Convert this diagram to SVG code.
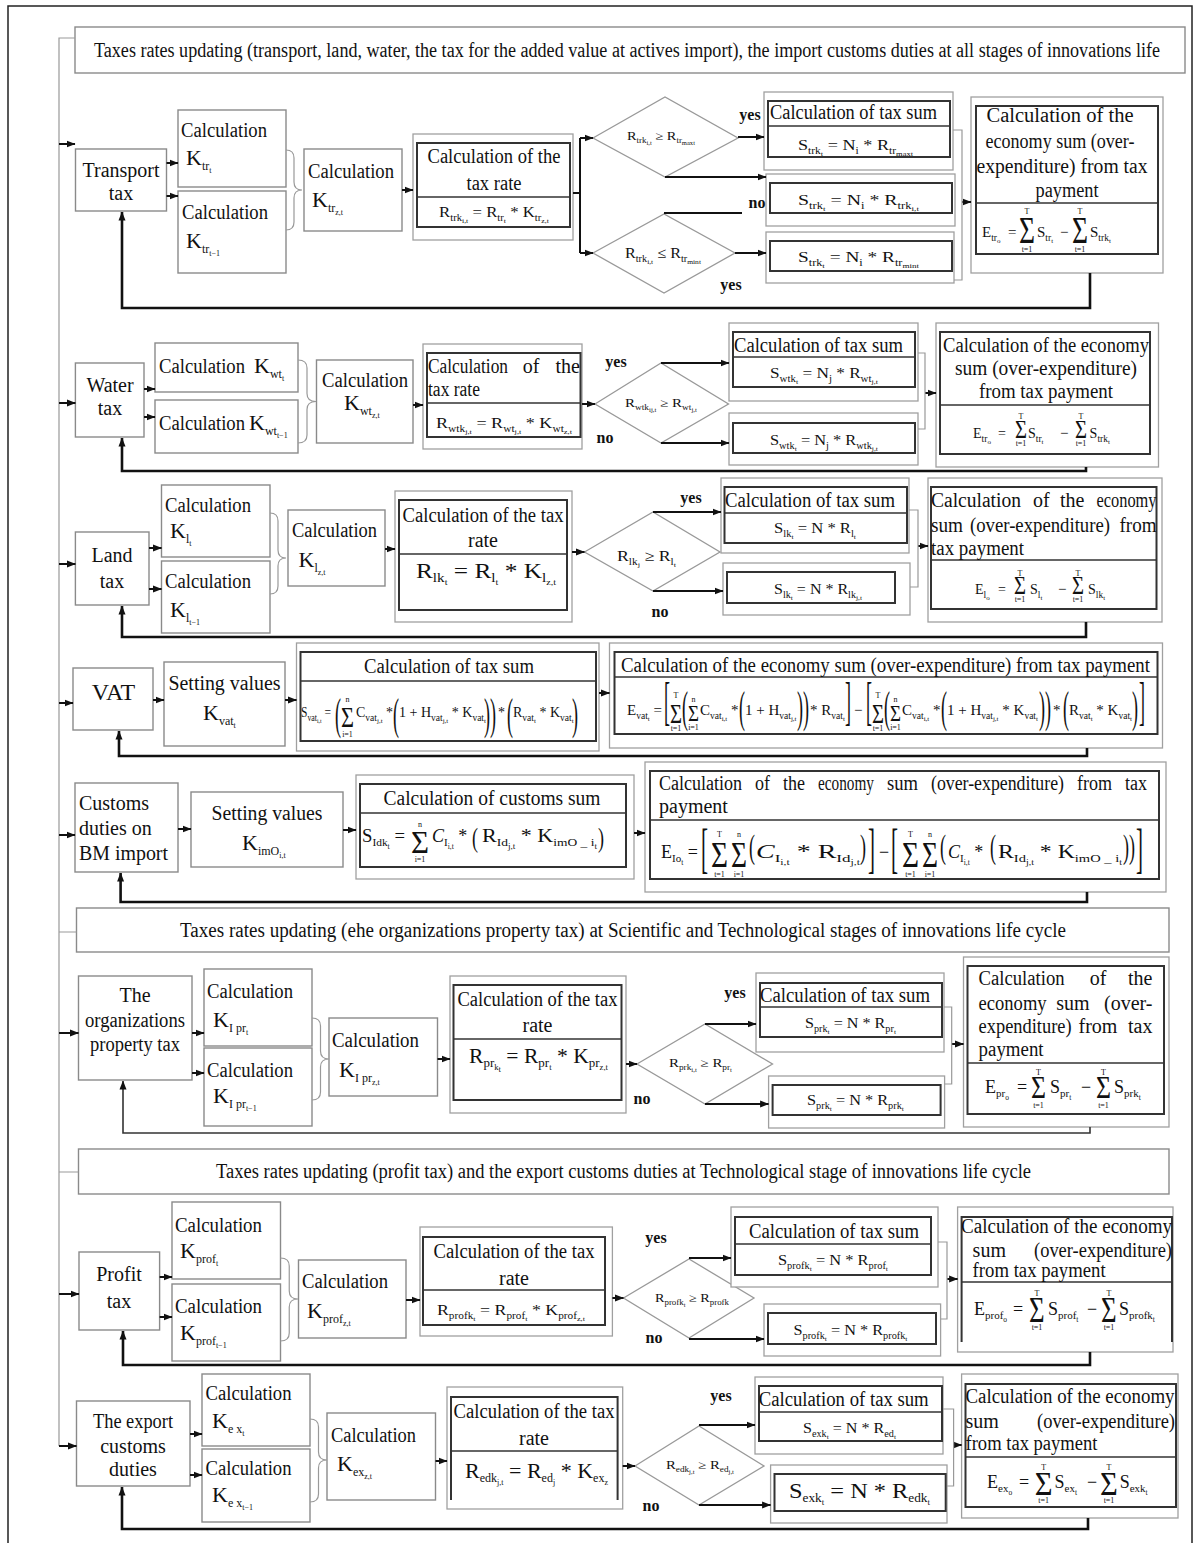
<svg xmlns="http://www.w3.org/2000/svg" width="1200" height="1543" viewBox="0 0 1200 1543">
<defs>
<style>
text{font-family:"Liberation Serif","Times New Roman",serif;fill:#111}
.t{font-size:20px}
.c{text-anchor:middle}
.e{text-anchor:end}
.k{font-size:22px}
.ks{font-size:12px}
.kss{font-size:8px}
.f{font-size:15px}
.s{font-size:9.5px}
.ss{font-size:7px}
.fm{font-size:18px}
.sm{font-size:11px}
.ssm{font-size:7.5px}
.fb{font-size:20px}
.sb{font-size:12px}
.ssb{font-size:8px}
.d{font-size:12px}
.ds{font-size:7.5px}
.dss{font-size:5.5px}
.y{font-size:16px;font-weight:bold;text-anchor:middle}
.lim{font-size:8px;text-anchor:middle}
.bp{font-size:44px}
.bk{font-size:52px}
.nb{fill:#fff;stroke:#8a8a8a;stroke-width:1.4}
.ob{fill:#fff;stroke:#a0a0a0;stroke-width:1.3}
.ib{fill:none;stroke:#333;stroke-width:2}
.dv{fill:none;stroke:#333;stroke-width:1.6}
.dm{fill:#fff;stroke:#999;stroke-width:1.3}
.gl{fill:none;stroke:#999;stroke-width:1.2}
.ln{fill:none;stroke:#111;stroke-width:2}
.fk{fill:none;stroke:#111;stroke-width:2.6}
.fkt{fill:none;stroke:#333;stroke-width:1.6}
</style>
<marker id="ah" markerUnits="userSpaceOnUse" markerWidth="9" markerHeight="8" refX="8.5" refY="4" orient="auto"><path d="M0,0.5 L9,4 L0,7.5 z" fill="#111"/></marker>
</defs>
<rect width="1200" height="1543" fill="#fff"/>
<rect x="8" y="6" width="1184" height="1560" fill="none" stroke="#222" stroke-width="1.5"/>

<!-- Titles -->
<g id="title-import-stage"><rect class="nb" x="75" y="27" width="1110" height="46"/><text class="t c" x="627" y="57" textLength="1066" lengthAdjust="spacingAndGlyphs">Taxes rates updating (transport, land, water, the tax for the added value at actives import), the import customs duties at all stages of innovations life</text></g>
<g id="title-property-stage"><rect class="nb" x="76.5" y="908" width="1092.5" height="44"/><text class="t c" x="623" y="937" textLength="886" lengthAdjust="spacingAndGlyphs">Taxes rates updating (ehe organizations property tax) at Scientific and Technological stages of innovations life cycle</text></g>
<g id="title-profit-stage"><rect class="nb" x="78.5" y="1149" width="1090.5" height="45"/><text class="t c" x="623.5" y="1178" textLength="815" lengthAdjust="spacingAndGlyphs">Taxes rates updating (profit tax) and the export customs duties at Technological stage of innovations life cycle</text></g>

<!-- Row 1: Transport -->
<g id="transport-tax"><rect class="nb" x="75.5" y="149" width="91" height="62"/><text class="t c" x="121" y="177">Transport</text><text class="t c" x="121" y="200">tax</text></g>
<g id="calc-ktr-t"><rect class="nb" x="178" y="110" width="108" height="77"/><text class="t" x="181" y="137" textLength="86" lengthAdjust="spacingAndGlyphs">Calculation</text><text class="k" x="186" y="165">K<tspan class="ks" dy="5">tr</tspan><tspan class="kss" dy="3">t</tspan></text></g>
<g id="calc-ktr-t1"><rect class="nb" x="178" y="191" width="108" height="82"/><text class="t" x="182" y="219" textLength="86" lengthAdjust="spacingAndGlyphs">Calculation</text><text class="k" x="186" y="248">K<tspan class="ks" dy="5">tr</tspan><tspan class="kss" dy="3">t−1</tspan></text></g>
<g id="calc-ktr-zt"><rect class="nb" x="304" y="149" width="98" height="82"/><text class="t" x="308" y="178" textLength="86" lengthAdjust="spacingAndGlyphs">Calculation</text><text class="k" x="312" y="207">K<tspan class="ks" dy="5">tr</tspan><tspan class="kss" dy="3">z,t</tspan></text></g>
<g id="rate-tr"><rect class="ob" x="413" y="134" width="160" height="106"/><rect class="ib" x="417" y="143" width="153" height="84"/><path class="dv" d="M417,197H570"/><text class="t c" x="494" y="163" textLength="133" lengthAdjust="spacingAndGlyphs">Calculation of the</text><text class="t c" x="494" y="190" textLength="55" lengthAdjust="spacingAndGlyphs">tax rate</text><text class="f" x="439" y="217" textLength="110" lengthAdjust="spacingAndGlyphs">R<tspan class="s" dy="3.5">trk</tspan><tspan class="ss" dy="2.5">i,t</tspan><tspan dy="-6"> = R</tspan><tspan class="s" dy="3.5">tr</tspan><tspan class="ss" dy="2.5">t</tspan><tspan dy="-6"> * K</tspan><tspan class="s" dy="3.5">tr</tspan><tspan class="ss" dy="2.5">z,t</tspan></text></g>
<g id="cond-tr-max"><polygon class="dm" points="593,138 665,97 738,138 665,177"/><text class="d" x="627" y="140" textLength="68" lengthAdjust="spacingAndGlyphs">R<tspan class="ds" dy="3">trk</tspan><tspan class="dss" dy="2">i,t</tspan><tspan dy="-5"> ≥ R</tspan><tspan class="ds" dy="3">tr</tspan><tspan class="dss" dy="2">maxt</tspan></text></g>
<g id="cond-tr-min"><polygon class="dm" points="593,253 664,214 735,253 664,293"/><text class="f" x="625" y="258" textLength="76" lengthAdjust="spacingAndGlyphs">R<tspan class="s" dy="3.5">trk</tspan><tspan class="ss" dy="2.5">i,t</tspan><tspan dy="-6"> ≤ R</tspan><tspan class="s" dy="3.5">tr</tspan><tspan class="ss" dy="2.5">mint</tspan></text></g>
<g id="sum-tr-max"><rect class="ob" x="764" y="92" width="189" height="78"/><rect class="ib" x="768" y="101" width="182" height="56"/><path class="dv" d="M768,126H950"/><text class="t c" x="853.5" y="119" textLength="167" lengthAdjust="spacingAndGlyphs">Calculation of tax sum</text><text class="f" x="798" y="150" textLength="115" lengthAdjust="spacingAndGlyphs">S<tspan class="s" dy="3.5">trk</tspan><tspan class="ss" dy="2.5">t</tspan><tspan dy="-6"> = N</tspan><tspan class="s" dy="3.5">i</tspan><tspan dy="-3.5"> * R</tspan><tspan class="s" dy="3.5">tr</tspan><tspan class="ss" dy="2.5">maxt</tspan></text></g>
<g id="sum-tr-cur"><rect class="ob" x="766" y="174" width="189" height="52"/><rect class="ib" x="770" y="183" width="182" height="30"/><text class="f" x="798" y="205" textLength="121" lengthAdjust="spacingAndGlyphs">S<tspan class="s" dy="3.5">trk</tspan><tspan class="ss" dy="2.5">t</tspan><tspan dy="-6"> = N</tspan><tspan class="s" dy="3.5">i</tspan><tspan dy="-3.5"> * R</tspan><tspan class="s" dy="3.5">trk</tspan><tspan class="ss" dy="2.5">i,t</tspan></text></g>
<g id="sum-tr-min"><rect class="ob" x="766" y="232" width="188" height="51"/><rect class="ib" x="770" y="241" width="182" height="30"/><text class="f" x="798" y="262" textLength="121" lengthAdjust="spacingAndGlyphs">S<tspan class="s" dy="3.5">trk</tspan><tspan class="ss" dy="2.5">t</tspan><tspan dy="-6"> = N</tspan><tspan class="s" dy="3.5">i</tspan><tspan dy="-3.5"> * R</tspan><tspan class="s" dy="3.5">tr</tspan><tspan class="ss" dy="2.5">mint</tspan></text></g>
<g id="econ-tr"><rect class="ob" x="971" y="97" width="192" height="176"/><rect class="ib" x="976" y="106" width="182" height="148"/><path class="dv" d="M976,203H1158"/>
<text class="t c" x="1060" y="122" textLength="147" lengthAdjust="spacingAndGlyphs">Calculation of the</text><text class="t c" x="1060" y="148" textLength="149" lengthAdjust="spacingAndGlyphs">economy sum (over-</text><text class="t c" x="1062" y="173" textLength="171" lengthAdjust="spacingAndGlyphs">expenditure) from tax</text><text class="t c" x="1067" y="197" textLength="63" lengthAdjust="spacingAndGlyphs">payment</text>
<text class="f" x="982" y="237">E<tspan class="s" dy="3.5">tr</tspan><tspan class="ss" dy="2.5">o</tspan></text><text class="f" x="1008" y="237">=</text>
<text x="1019" y="243" style="font-size:38px" textLength="16" lengthAdjust="spacingAndGlyphs">Σ</text><text class="lim" x="1027" y="214">T</text><text class="lim" x="1027" y="252">t=1</text>
<text class="f" x="1037" y="237">S<tspan class="s" dy="3.5">tr</tspan><tspan class="ss" dy="2.5">t</tspan></text><text class="f" x="1060" y="237">−</text>
<text x="1072" y="243" style="font-size:38px" textLength="16" lengthAdjust="spacingAndGlyphs">Σ</text><text class="lim" x="1080" y="214">T</text><text class="lim" x="1080" y="252">t=1</text>
<text class="f" x="1090" y="237">S<tspan class="s" dy="3.5">trk</tspan><tspan class="ss" dy="2.5">t</tspan></text></g>

<!-- Row 2: Water -->
<g id="water-tax"><rect class="nb" x="75.4" y="363" width="68.6" height="74"/><text class="t c" x="110" y="392">Water</text><text class="t c" x="110" y="415">tax</text></g>
<g id="calc-kwt-t"><rect class="nb" x="155" y="343" width="143" height="49"/><text class="t" x="159" y="373" textLength="86" lengthAdjust="spacingAndGlyphs">Calculation</text><text class="k" x="254" y="373">K<tspan class="ks" dy="5">wt</tspan><tspan class="kss" dy="3">t</tspan></text></g>
<g id="calc-kwt-t1"><rect class="nb" x="155" y="400" width="143" height="53"/><text class="t" x="159" y="430" textLength="86" lengthAdjust="spacingAndGlyphs">Calculation</text><text class="k" x="249" y="430">K<tspan class="ks" dy="5">wt</tspan><tspan class="kss" dy="3">t−1</tspan></text></g>
<g id="calc-kwt-zt"><rect class="nb" x="316.5" y="360" width="96.5" height="83"/><text class="t c" x="365" y="387" textLength="86" lengthAdjust="spacingAndGlyphs">Calculation</text><text class="k" x="344" y="410">K<tspan class="ks" dy="5">wt</tspan><tspan class="kss" dy="3">z,t</tspan></text></g>
<g id="rate-wt"><rect class="ob" x="423" y="344" width="159" height="105"/><rect class="ib" x="427" y="353" width="153.5" height="84"/><path class="dv" d="M427,403H580.5"/><text class="t" x="428" y="373" textLength="80" lengthAdjust="spacingAndGlyphs">Calculation</text><text class="t c" x="531" y="373">of</text><text class="t e" x="580" y="373">the</text><text class="t" x="428" y="396" textLength="52" lengthAdjust="spacingAndGlyphs">tax rate</text><text class="f" x="436" y="428" textLength="136" lengthAdjust="spacingAndGlyphs">R<tspan class="s" dy="3.5">wtk</tspan><tspan class="ss" dy="2.5">j,t</tspan><tspan dy="-6"> = R</tspan><tspan class="s" dy="3.5">wt</tspan><tspan class="ss" dy="2.5">j,t</tspan><tspan dy="-6"> * K</tspan><tspan class="s" dy="3.5">wt</tspan><tspan class="ss" dy="2.5">z,t</tspan></text></g>
<g id="cond-wt"><polygon class="dm" points="595,404 661,363 728.5,404 661,443"/><text class="d" x="625" y="407" textLength="72" lengthAdjust="spacingAndGlyphs">R<tspan class="ds" dy="3">wtk</tspan><tspan class="dss" dy="2">ij,t</tspan><tspan dy="-5"> ≥ R</tspan><tspan class="ds" dy="3">wt</tspan><tspan class="dss" dy="2">j,t</tspan></text></g>
<g id="sum-wt-1"><rect class="ob" x="729" y="323" width="189" height="78"/><rect class="ib" x="733" y="332" width="182" height="55"/><path class="dv" d="M733,357H915"/><text class="t c" x="818.5" y="352" textLength="169" lengthAdjust="spacingAndGlyphs">Calculation of tax sum</text><text class="f" x="770" y="378" textLength="108" lengthAdjust="spacingAndGlyphs">S<tspan class="s" dy="3.5">wtk</tspan><tspan class="ss" dy="2.5">t</tspan><tspan dy="-6"> = N</tspan><tspan class="s" dy="3.5">j</tspan><tspan dy="-3.5"> * R</tspan><tspan class="s" dy="3.5">wt</tspan><tspan class="ss" dy="2.5">j,t</tspan></text></g>
<g id="sum-wt-2"><rect class="ob" x="729" y="413" width="189" height="52"/><rect class="ib" x="733" y="423" width="182" height="30"/><text class="f" x="770" y="445" textLength="108" lengthAdjust="spacingAndGlyphs">S<tspan class="s" dy="3.5">wtk</tspan><tspan class="ss" dy="2.5">t</tspan><tspan dy="-6"> = N</tspan><tspan class="s" dy="3.5">j</tspan><tspan dy="-3.5"> * R</tspan><tspan class="s" dy="3.5">wtk</tspan><tspan class="ss" dy="2.5">j,t</tspan></text></g>
<g id="econ-wt"><rect class="ob" x="936" y="323" width="222.5" height="144"/><rect class="ib" x="940" y="332" width="210" height="122"/><path class="dv" d="M940,405H1150"/>
<text class="t c" x="1046" y="352" textLength="206" lengthAdjust="spacingAndGlyphs">Calculation of the economy</text><text class="t c" x="1046" y="375" textLength="182" lengthAdjust="spacingAndGlyphs">sum  (over-expenditure)</text><text class="t c" x="1046" y="398" textLength="134" lengthAdjust="spacingAndGlyphs">from tax payment</text>
<text class="f" x="973" y="438" style="font-size:14px">E<tspan class="s" dy="3.5">tr</tspan><tspan class="ss" dy="2.5">o</tspan></text><text class="f" x="998" y="438" style="font-size:14px">=</text>
<text x="1015" y="438" style="font-size:26px" textLength="12" lengthAdjust="spacingAndGlyphs">Σ</text><text class="lim" x="1021" y="419">T</text><text class="lim" x="1021" y="446">t=1</text>
<text class="f" x="1028" y="438" style="font-size:14px">S<tspan class="s" dy="3.5">tr</tspan><tspan class="ss" dy="2.5">t</tspan></text><text class="f" x="1060" y="438">−</text>
<text x="1075" y="438" style="font-size:26px" textLength="12" lengthAdjust="spacingAndGlyphs">Σ</text><text class="lim" x="1081" y="419">T</text><text class="lim" x="1081" y="446">t=1</text>
<text class="f" x="1089.6" y="438" style="font-size:14px">S<tspan class="s" dy="3.5">trk</tspan><tspan class="ss" dy="2.5">t</tspan></text></g>

<!-- Row 3: Land -->
<g id="land-tax"><rect class="nb" x="75.4" y="532" width="73.6" height="73"/><text class="t c" x="112" y="562">Land</text><text class="t c" x="112" y="588">tax</text></g>
<g id="calc-kl-t"><rect class="nb" x="161.5" y="485" width="108.5" height="72"/><text class="t" x="165" y="512" textLength="86" lengthAdjust="spacingAndGlyphs">Calculation</text><text class="k" x="170" y="538">K<tspan class="ks" dy="5">l</tspan><tspan class="kss" dy="3">t</tspan></text></g>
<g id="calc-kl-t1"><rect class="nb" x="161.5" y="561" width="108.5" height="72"/><text class="t" x="165" y="588" textLength="86" lengthAdjust="spacingAndGlyphs">Calculation</text><text class="k" x="170" y="617">K<tspan class="ks" dy="5">l</tspan><tspan class="kss" dy="3">t−1</tspan></text></g>
<g id="calc-kl-zt"><rect class="nb" x="288" y="510" width="97" height="76"/><text class="t" x="292" y="537" textLength="85" lengthAdjust="spacingAndGlyphs">Calculation</text><text class="k" x="298.5" y="567">K<tspan class="ks" dy="5">l</tspan><tspan class="kss" dy="3">z,t</tspan></text></g>
<g id="rate-l"><rect class="ob" x="395" y="491" width="177" height="131"/><rect class="ib" x="399" y="500" width="168" height="110"/><path class="dv" d="M399,554H567"/><text class="t c" x="483" y="522" textLength="161" lengthAdjust="spacingAndGlyphs">Calculation of the tax</text><text class="t c" x="483" y="547">rate</text><text class="fb" x="416" y="578" textLength="140" lengthAdjust="spacingAndGlyphs">R<tspan class="sb" dy="4">lk</tspan><tspan class="ssb" dy="3">t</tspan><tspan dy="-7"> = R</tspan><tspan class="sb" dy="4">l</tspan><tspan class="ssb" dy="3">t</tspan><tspan dy="-7"> * K</tspan><tspan class="sb" dy="4">l</tspan><tspan class="ssb" dy="3">z,t</tspan></text></g>
<g id="cond-l"><polygon class="dm" points="584.5,552 653,512 720,552 653,591"/><text class="f" x="617" y="561" textLength="59" lengthAdjust="spacingAndGlyphs">R<tspan class="s" dy="3.5">lk</tspan><tspan class="ss" dy="2.5">j</tspan><tspan dy="-6"> ≥ R</tspan><tspan class="s" dy="3.5">l</tspan><tspan class="ss" dy="2.5">t</tspan></text></g>
<g id="sum-l-1"><rect class="ob" x="721" y="478" width="188" height="75"/><rect class="ib" x="724.5" y="487" width="182.5" height="56"/><path class="dv" d="M724.5,513H907"/><text class="t c" x="810" y="507" textLength="170" lengthAdjust="spacingAndGlyphs">Calculation of tax sum</text><text class="f" x="774" y="533" textLength="82" lengthAdjust="spacingAndGlyphs">S<tspan class="s" dy="3.5">lk</tspan><tspan class="ss" dy="2.5">t</tspan><tspan dy="-6"> = N * R</tspan><tspan class="s" dy="3.5">l</tspan><tspan class="ss" dy="2.5">t</tspan></text></g>
<g id="sum-l-2"><rect class="ob" x="723" y="563" width="187" height="52"/><rect class="ib" x="727" y="572" width="168" height="31"/><text class="f" x="774" y="594" textLength="88" lengthAdjust="spacingAndGlyphs">S<tspan class="s" dy="3.5">lk</tspan><tspan class="ss" dy="2.5">t</tspan><tspan dy="-6"> = N * R</tspan><tspan class="s" dy="3.5">lk</tspan><tspan class="ss" dy="2.5">j,t</tspan></text></g>
<g id="econ-l"><rect class="ob" x="928" y="478" width="234" height="144"/><rect class="ib" x="931" y="487" width="225.5" height="122"/><path class="dv" d="M931,560H1156.5"/>
<text class="t" x="931" y="507" textLength="90" lengthAdjust="spacingAndGlyphs">Calculation</text><text class="t" x="1033" y="507">of</text><text class="t" x="1060" y="507">the</text><text class="t e" x="1156.5" y="507" textLength="60" lengthAdjust="spacingAndGlyphs">economy</text>
<text class="t" x="931" y="532" textLength="32" lengthAdjust="spacingAndGlyphs">sum</text><text class="t" x="970" y="532" textLength="140" lengthAdjust="spacingAndGlyphs">(over-expenditure)</text><text class="t e" x="1156.5" y="532" textLength="37" lengthAdjust="spacingAndGlyphs">from</text>
<text class="t" x="931" y="555" textLength="93" lengthAdjust="spacingAndGlyphs">tax payment</text>
<text class="f" x="975" y="594" style="font-size:14px">E<tspan class="s" dy="3.5">l</tspan><tspan class="ss" dy="2.5">o</tspan></text><text class="f" x="998" y="594" style="font-size:14px">=</text>
<text x="1014" y="594" style="font-size:26px" textLength="12" lengthAdjust="spacingAndGlyphs">Σ</text><text class="lim" x="1020" y="576">T</text><text class="lim" x="1020" y="602">t=1</text>
<text class="f" x="1030" y="594" style="font-size:14px">S<tspan class="s" dy="3.5">l</tspan><tspan class="ss" dy="2.5">t</tspan></text><text class="f" x="1058" y="594">−</text>
<text x="1072" y="594" style="font-size:26px" textLength="12" lengthAdjust="spacingAndGlyphs">Σ</text><text class="lim" x="1078" y="576">T</text><text class="lim" x="1078" y="602">t=1</text>
<text class="f" x="1088" y="594" style="font-size:14px">S<tspan class="s" dy="3.5">lk</tspan><tspan class="ss" dy="2.5">t</tspan></text></g>

<!-- Row 4: VAT -->
<g id="vat"><rect class="nb" x="73" y="668" width="80" height="62"/><text class="t c" x="113.5" y="700" style="font-size:24px">VAT</text></g>
<g id="set-kvat"><rect class="nb" x="164" y="662" width="121" height="84"/><text class="t c" x="224.5" y="690" textLength="112" lengthAdjust="spacingAndGlyphs">Setting values</text><text class="k" x="203" y="720">K<tspan class="ks" dy="5">vat</tspan><tspan class="kss" dy="3">t</tspan></text></g>
<g id="sum-vat"><rect class="ob" x="296.5" y="643" width="302.5" height="108"/><rect class="ib" x="300.5" y="652" width="295.5" height="89"/><path class="dv" d="M300.5,681H596"/><text class="t c" x="449" y="673" textLength="170" lengthAdjust="spacingAndGlyphs">Calculation of tax sum</text>
<text x="301" y="717" style="font-size:14px" textLength="30" lengthAdjust="spacingAndGlyphs">S<tspan class="s" dy="3.5">vat</tspan><tspan class="ss" dy="2.5">i,t</tspan><tspan dy="-6"> =</tspan></text>
<text class="bp" x="335" y="729" textLength="6" lengthAdjust="spacingAndGlyphs">(</text>
<text x="341" y="727" style="font-size:30px" textLength="13" lengthAdjust="spacingAndGlyphs">Σ</text><text class="lim" x="347.5" y="702">n</text><text class="lim" x="347.5" y="737">i=1</text>
<text x="356" y="717" style="font-size:14px">C<tspan class="s" dy="3.5">vat</tspan><tspan class="ss" dy="2.5">j,t</tspan><tspan dy="-6"> *</tspan></text>
<text class="bp" x="393" y="729" textLength="6" lengthAdjust="spacingAndGlyphs">(</text>
<text x="399" y="717" style="font-size:14px">1 + H<tspan class="s" dy="3.5">vat</tspan><tspan class="ss" dy="2.5">j,t</tspan><tspan dy="-6"> * K</tspan><tspan class="s" dy="3.5">vat</tspan><tspan class="ss" dy="2.5">t</tspan></text>
<text class="bp" x="484" y="729" textLength="6" lengthAdjust="spacingAndGlyphs">)</text><text class="bp" x="490" y="729" textLength="6" lengthAdjust="spacingAndGlyphs">)</text>
<text x="498" y="717" style="font-size:14px">*</text>
<text class="bp" x="507" y="729" textLength="6" lengthAdjust="spacingAndGlyphs">(</text>
<text x="513" y="717" style="font-size:14px">R<tspan class="s" dy="3.5">vat</tspan><tspan class="ss" dy="2.5">t</tspan><tspan dy="-6"> * K</tspan><tspan class="s" dy="3.5">vat</tspan><tspan class="ss" dy="2.5">t</tspan></text>
<text class="bp" x="572" y="729" textLength="6" lengthAdjust="spacingAndGlyphs">)</text></g>
<g id="econ-vat"><rect class="ob" x="609.5" y="643" width="553" height="105"/><rect class="ib" x="614.5" y="652" width="543" height="82"/><path class="dv" d="M614.5,677H1157.5"/><text class="t" x="621" y="672" textLength="529" lengthAdjust="spacingAndGlyphs">Calculation of the economy sum  (over-expenditure) from tax payment</text>
<text class="f" x="627" y="715">E<tspan class="s" dy="3.5">vat</tspan><tspan class="ss" dy="2.5">t</tspan><tspan dy="-6"> =</tspan></text>
<text class="bk" x="664" y="719" textLength="6" lengthAdjust="spacingAndGlyphs">[</text>
<text x="670" y="723" style="font-size:28px" textLength="12" lengthAdjust="spacingAndGlyphs">Σ</text><text class="lim" x="676" y="698">T</text><text class="lim" x="676" y="731">t=1</text>
<text class="bp" x="682" y="722" textLength="6" lengthAdjust="spacingAndGlyphs">(</text>
<text x="688" y="721" style="font-size:24px" textLength="11" lengthAdjust="spacingAndGlyphs">Σ</text><text class="lim" x="693.5" y="702">n</text><text class="lim" x="693.5" y="730">i=1</text>
<text class="f" x="700" y="715">C<tspan class="s" dy="3.5">vat</tspan><tspan class="ss" dy="2.5">i,t</tspan><tspan dy="-6"> *</tspan></text>
<text class="bp" x="739" y="722" textLength="6" lengthAdjust="spacingAndGlyphs">(</text>
<text class="f" x="745" y="715">1 + H<tspan class="s" dy="3.5">vat</tspan><tspan class="ss" dy="2.5">j,t</tspan></text>
<text class="bp" x="797" y="722" textLength="6" lengthAdjust="spacingAndGlyphs">)</text><text class="bp" x="803" y="722" textLength="6" lengthAdjust="spacingAndGlyphs">)</text>
<text class="f" x="810" y="715">* R<tspan class="s" dy="3.5">vat</tspan><tspan class="ss" dy="2.5">t</tspan></text>
<text class="bk" x="845" y="719" textLength="6" lengthAdjust="spacingAndGlyphs">]</text>
<text class="f" x="854" y="715">−</text>
<text class="bk" x="866" y="719" textLength="6" lengthAdjust="spacingAndGlyphs">[</text>
<text x="872" y="723" style="font-size:28px" textLength="12" lengthAdjust="spacingAndGlyphs">Σ</text><text class="lim" x="878" y="698">T</text><text class="lim" x="878" y="731">t=1</text>
<text class="bp" x="884" y="722" textLength="6" lengthAdjust="spacingAndGlyphs">(</text>
<text x="890" y="721" style="font-size:24px" textLength="11" lengthAdjust="spacingAndGlyphs">Σ</text><text class="lim" x="895.5" y="702">n</text><text class="lim" x="895.5" y="730">i=1</text>
<text class="f" x="902" y="715">C<tspan class="s" dy="3.5">vat</tspan><tspan class="ss" dy="2.5">i,t</tspan><tspan dy="-6"> *</tspan></text>
<text class="bp" x="941" y="722" textLength="6" lengthAdjust="spacingAndGlyphs">(</text>
<text class="f" x="947" y="715">1 + H<tspan class="s" dy="3.5">vat</tspan><tspan class="ss" dy="2.5">j,t</tspan><tspan dy="-6"> * K</tspan><tspan class="s" dy="3.5">vat</tspan><tspan class="ss" dy="2.5">t</tspan></text>
<text class="bp" x="1039" y="722" textLength="6" lengthAdjust="spacingAndGlyphs">)</text><text class="bp" x="1045" y="722" textLength="6" lengthAdjust="spacingAndGlyphs">)</text>
<text class="f" x="1053" y="715">*</text>
<text class="bp" x="1063" y="722" textLength="6" lengthAdjust="spacingAndGlyphs">(</text>
<text class="f" x="1069" y="715">R<tspan class="s" dy="3.5">vat</tspan><tspan class="ss" dy="2.5">t</tspan><tspan dy="-6"> * K</tspan><tspan class="s" dy="3.5">vat</tspan><tspan class="ss" dy="2.5">t</tspan></text>
<text class="bp" x="1132" y="722" textLength="6" lengthAdjust="spacingAndGlyphs">)</text>
<text class="bk" x="1139" y="719" textLength="6" lengthAdjust="spacingAndGlyphs">]</text></g>

<!-- Row 5: Customs -->
<g id="customs-import"><rect class="nb" x="75" y="783" width="103" height="89"/><text class="t" x="79" y="810">Customs</text><text class="t" x="79" y="835">duties on</text><text class="t" x="79" y="860" textLength="89" lengthAdjust="spacingAndGlyphs">BM import</text></g>
<g id="set-kimo"><rect class="nb" x="191" y="792" width="152" height="75"/><text class="t c" x="267" y="820" textLength="111" lengthAdjust="spacingAndGlyphs">Setting values</text><text class="k" x="242" y="850">K<tspan class="ks" dy="5">imO</tspan><tspan class="kss" dy="3">i,t</tspan></text></g>
<g id="sum-customs"><rect class="ob" x="356" y="775" width="278" height="104"/><rect class="ib" x="360" y="784" width="266" height="83"/><path class="dv" d="M360,813H626"/><text class="t c" x="492" y="805" textLength="217" lengthAdjust="spacingAndGlyphs">Calculation of customs  sum</text>
<text class="fm" x="362" y="842" textLength="43" lengthAdjust="spacingAndGlyphs">S<tspan class="sm" dy="4">Idk</tspan><tspan class="ssm" dy="2.5">t</tspan><tspan dy="-6.5"> =</tspan></text>
<text x="411" y="853" style="font-size:32px" textLength="18" lengthAdjust="spacingAndGlyphs">Σ</text><text class="lim" x="420" y="827">n</text><text class="lim" x="420" y="862">i=1</text>
<text class="fm" x="432" y="842"><tspan font-style="italic">C</tspan><tspan class="sm" dy="4">I</tspan><tspan class="ssm" dy="2.5">i,t</tspan><tspan dy="-6.5"> *</tspan></text>
<text x="472" y="847" style="font-size:28px" textLength="6" lengthAdjust="spacingAndGlyphs">(</text>
<text class="fm" x="482" y="842" textLength="115" lengthAdjust="spacingAndGlyphs">R<tspan class="sm" dy="4">Id</tspan><tspan class="ssm" dy="2.5">j,t</tspan><tspan dy="-6.5"> * K</tspan><tspan class="sm" dy="4">imO _ i</tspan><tspan class="ssm" dy="2.5">t</tspan></text>
<text x="598" y="847" style="font-size:28px" textLength="6" lengthAdjust="spacingAndGlyphs">)</text></g>
<g id="econ-customs"><rect class="ob" x="645" y="762" width="521" height="130"/><rect class="ib" x="650" y="771" width="509" height="108"/><path class="dv" d="M650,820H1159"/>
<text class="t" x="659" y="790" textLength="83" lengthAdjust="spacingAndGlyphs">Calculation</text><text class="t" x="755" y="790" textLength="15" lengthAdjust="spacingAndGlyphs">of</text><text class="t" x="783" y="790" textLength="22" lengthAdjust="spacingAndGlyphs">the</text><text class="t" x="818" y="790" textLength="56" lengthAdjust="spacingAndGlyphs">economy</text><text class="t" x="887" y="790" textLength="31" lengthAdjust="spacingAndGlyphs">sum</text><text class="t" x="931" y="790" textLength="133" lengthAdjust="spacingAndGlyphs">(over-expenditure)</text><text class="t" x="1077" y="790" textLength="35" lengthAdjust="spacingAndGlyphs">from</text><text class="t" x="1125" y="790" textLength="22" lengthAdjust="spacingAndGlyphs">tax</text>
<text class="t" x="659" y="813">payment</text>
<text class="fm" x="661" y="858">E<tspan class="sm" dy="4">Io</tspan><tspan class="ssm" dy="2.5">t</tspan><tspan dy="-6.5"> =</tspan></text>
<text class="bk" x="701" y="867" style="font-size:54px" textLength="7" lengthAdjust="spacingAndGlyphs">[</text>
<text x="711" y="867" style="font-size:36px" textLength="17" lengthAdjust="spacingAndGlyphs">Σ</text><text class="lim" x="719.5" y="837">T</text><text class="lim" x="719.5" y="877">t=1</text>
<text x="731" y="867" style="font-size:36px" textLength="16" lengthAdjust="spacingAndGlyphs">Σ</text><text class="lim" x="739" y="837">n</text><text class="lim" x="739" y="877">i=1</text>
<text x="749" y="858" style="font-size:34px" textLength="6" lengthAdjust="spacingAndGlyphs">(</text>
<text class="fm" x="756" y="858" textLength="104" lengthAdjust="spacingAndGlyphs"><tspan font-style="italic">C</tspan><tspan class="sm" dy="4">I</tspan><tspan class="ssm" dy="2.5">i,t</tspan><tspan dy="-6.5"> * R</tspan><tspan class="sm" dy="4">Id</tspan><tspan class="ssm" dy="2.5">j,t</tspan></text>
<text x="860" y="858" style="font-size:34px" textLength="6" lengthAdjust="spacingAndGlyphs">)</text>
<text class="bk" x="868" y="867" style="font-size:54px" textLength="7" lengthAdjust="spacingAndGlyphs">]</text>
<text class="fm" x="879" y="858">−</text>
<text class="bk" x="891" y="867" style="font-size:54px" textLength="7" lengthAdjust="spacingAndGlyphs">[</text>
<text x="902" y="867" style="font-size:36px" textLength="17" lengthAdjust="spacingAndGlyphs">Σ</text><text class="lim" x="910.5" y="837">T</text><text class="lim" x="910.5" y="877">t=1</text>
<text x="922" y="867" style="font-size:36px" textLength="16" lengthAdjust="spacingAndGlyphs">Σ</text><text class="lim" x="930" y="837">n</text><text class="lim" x="930" y="877">i=1</text>
<text x="940" y="858" style="font-size:34px" textLength="6" lengthAdjust="spacingAndGlyphs">(</text>
<text class="fm" x="948" y="858"><tspan font-style="italic">C</tspan><tspan class="sm" dy="4">I</tspan><tspan class="ssm" dy="2.5">i,t</tspan><tspan dy="-6.5"> *</tspan></text>
<text x="990" y="858" style="font-size:34px" textLength="6" lengthAdjust="spacingAndGlyphs">(</text>
<text class="fm" x="998" y="858" textLength="124" lengthAdjust="spacingAndGlyphs">R<tspan class="sm" dy="4">Id</tspan><tspan class="ssm" dy="2.5">j,t</tspan><tspan dy="-6.5"> * K</tspan><tspan class="sm" dy="4">imO _ i</tspan><tspan class="ssm" dy="2.5">t</tspan></text>
<text x="1123" y="858" style="font-size:34px" textLength="6" lengthAdjust="spacingAndGlyphs">)</text><text x="1129" y="858" style="font-size:34px" textLength="6" lengthAdjust="spacingAndGlyphs">)</text>
<text class="bk" x="1136" y="867" style="font-size:54px" textLength="7" lengthAdjust="spacingAndGlyphs">]</text></g>

<!-- Row 6: Property -->
<g id="property-tax"><rect class="nb" x="78.5" y="976" width="113.5" height="104"/><text class="t c" x="135" y="1002">The</text><text class="t c" x="135" y="1027" textLength="100" lengthAdjust="spacingAndGlyphs">organizations</text><text class="t c" x="135" y="1051" textLength="90" lengthAdjust="spacingAndGlyphs">property tax</text></g>
<g id="calc-kipr-t"><rect class="nb" x="204" y="969" width="108" height="77"/><text class="t" x="207" y="998" textLength="86" lengthAdjust="spacingAndGlyphs">Calculation</text><text class="k" x="213" y="1027">K<tspan class="ks" dy="5">I pr</tspan><tspan class="kss" dy="3">t</tspan></text></g>
<g id="calc-kipr-t1"><rect class="nb" x="204" y="1048" width="108" height="78"/><text class="t" x="207" y="1077" textLength="86" lengthAdjust="spacingAndGlyphs">Calculation</text><text class="k" x="213" y="1103">K<tspan class="ks" dy="5">I pr</tspan><tspan class="kss" dy="3">t−1</tspan></text></g>
<g id="calc-kipr-zt"><rect class="nb" x="329" y="1018" width="108.5" height="78"/><text class="t" x="332" y="1047" textLength="87" lengthAdjust="spacingAndGlyphs">Calculation</text><text class="k" x="339" y="1077">K<tspan class="ks" dy="5">I pr</tspan><tspan class="kss" dy="3">z,t</tspan></text></g>
<g id="rate-pr"><rect class="ob" x="450" y="976" width="176" height="137"/><rect class="ib" x="453.5" y="985" width="168" height="115"/><path class="dv" d="M453.5,1039H621.5"/><text class="t c" x="537.5" y="1006" textLength="160" lengthAdjust="spacingAndGlyphs">Calculation of the tax</text><text class="t c" x="537.5" y="1032">rate</text><text class="fb" x="469" y="1063" textLength="139" lengthAdjust="spacingAndGlyphs">R<tspan class="sb" dy="4">pr</tspan><tspan class="ssb" dy="3">k</tspan><tspan class="ssb" dy="2">t</tspan><tspan dy="-9"> = R</tspan><tspan class="sb" dy="4">pr</tspan><tspan class="ssb" dy="3">t</tspan><tspan dy="-7"> * K</tspan><tspan class="sb" dy="4">pr</tspan><tspan class="ssb" dy="3">z,t</tspan></text></g>
<g id="cond-pr"><polygon class="dm" points="637,1064 705,1024 772.5,1064 705,1104"/><text class="d" x="669" y="1067" textLength="63" lengthAdjust="spacingAndGlyphs">R<tspan class="ds" dy="3">prk</tspan><tspan class="dss" dy="2">i,t</tspan><tspan dy="-5"> ≥ R</tspan><tspan class="ds" dy="3">pr</tspan><tspan class="dss" dy="2">t</tspan></text></g>
<g id="sum-pr-1"><rect class="ob" x="756" y="973" width="188" height="79"/><rect class="ib" x="760" y="983" width="182" height="54"/><path class="dv" d="M760,1007H942"/><text class="t c" x="845" y="1002" textLength="170" lengthAdjust="spacingAndGlyphs">Calculation of tax sum</text><text class="f" x="805" y="1028" textLength="91" lengthAdjust="spacingAndGlyphs">S<tspan class="s" dy="3.5">prk</tspan><tspan class="ss" dy="2.5">t</tspan><tspan dy="-6"> = N * R</tspan><tspan class="s" dy="3.5">pr</tspan><tspan class="ss" dy="2.5">t</tspan></text></g>
<g id="sum-pr-2"><rect class="ob" x="768.6" y="1076" width="176" height="52"/><rect class="ib" x="772.6" y="1085" width="168" height="30"/><text class="f" x="807" y="1105" textLength="97" lengthAdjust="spacingAndGlyphs">S<tspan class="s" dy="3.5">prk</tspan><tspan class="ss" dy="2.5">t</tspan><tspan dy="-6"> = N * R</tspan><tspan class="s" dy="3.5">prk</tspan><tspan class="ss" dy="2.5">t</tspan></text></g>
<g id="econ-pr"><rect class="ob" x="963.5" y="957" width="205.5" height="170"/><rect class="ib" x="967.5" y="966" width="196.5" height="148"/><path class="dv" d="M967.5,1063H1164"/>
<text class="t" x="978.6" y="985" textLength="86" lengthAdjust="spacingAndGlyphs">Calculation</text><text class="t c" x="1098" y="985">of</text><text class="t e" x="1152.5" y="985">the</text>
<text class="t" x="978.6" y="1010" textLength="68" lengthAdjust="spacingAndGlyphs">economy</text><text class="t c" x="1073" y="1010">sum</text><text class="t e" x="1152.5" y="1010">(over-</text>
<text class="t" x="978.6" y="1033" textLength="93" lengthAdjust="spacingAndGlyphs">expenditure)</text><text class="t c" x="1098" y="1033">from</text><text class="t e" x="1152.5" y="1033">tax</text>
<text class="t" x="978.6" y="1056" textLength="65" lengthAdjust="spacingAndGlyphs">payment</text>
<text class="fm" x="985" y="1093">E<tspan class="sm" dy="4">pr</tspan><tspan class="ssm" dy="2.5">o</tspan></text><text class="fm" x="1017" y="1093">=</text>
<text x="1031" y="1098" style="font-size:32px" textLength="15" lengthAdjust="spacingAndGlyphs">Σ</text><text class="lim" x="1038.5" y="1075">T</text><text class="lim" x="1038.5" y="1108">t=1</text>
<text class="fm" x="1050" y="1093">S<tspan class="sm" dy="4">pr</tspan><tspan class="ssm" dy="2.5">t</tspan></text><text class="fm" x="1081" y="1093">−</text>
<text x="1096" y="1098" style="font-size:32px" textLength="15" lengthAdjust="spacingAndGlyphs">Σ</text><text class="lim" x="1103.5" y="1075">T</text><text class="lim" x="1103.5" y="1108">t=1</text>
<text class="fm" x="1114" y="1093">S<tspan class="sm" dy="4">prk</tspan><tspan class="ssm" dy="2.5">t</tspan></text></g>

<!-- Row 7: Profit -->
<g id="profit-tax"><rect class="nb" x="79" y="1252" width="80.6" height="78"/><text class="t c" x="119" y="1281">Profit</text><text class="t c" x="119" y="1308">tax</text></g>
<g id="calc-kprof-t"><rect class="nb" x="172" y="1202" width="108.5" height="77"/><text class="t" x="175" y="1232" textLength="87" lengthAdjust="spacingAndGlyphs">Calculation</text><text class="k" x="180" y="1258">K<tspan class="ks" dy="5">prof</tspan><tspan class="kss" dy="3">t</tspan></text></g>
<g id="calc-kprof-t1"><rect class="nb" x="172" y="1284" width="108.5" height="77"/><text class="t" x="175" y="1313" textLength="87" lengthAdjust="spacingAndGlyphs">Calculation</text><text class="k" x="180" y="1340">K<tspan class="ks" dy="5">prof</tspan><tspan class="kss" dy="3">t−1</tspan></text></g>
<g id="calc-kprof-zt"><rect class="nb" x="298.5" y="1260" width="107.5" height="78"/><text class="t" x="302" y="1288" textLength="86" lengthAdjust="spacingAndGlyphs">Calculation</text><text class="k" x="307" y="1318">K<tspan class="ks" dy="5">prof</tspan><tspan class="kss" dy="3">z,t</tspan></text></g>
<g id="rate-prof"><rect class="ob" x="420" y="1227" width="192.4" height="109"/><rect class="ib" x="423" y="1237" width="182" height="88"/><path class="dv" d="M423,1290H605"/><text class="t c" x="514" y="1258" textLength="161" lengthAdjust="spacingAndGlyphs">Calculation of the tax</text><text class="t c" x="514" y="1285">rate</text><text class="f" x="437" y="1315" textLength="148" lengthAdjust="spacingAndGlyphs">R<tspan class="s" dy="3.5">profk</tspan><tspan class="ss" dy="2.5">t</tspan><tspan dy="-6"> = R</tspan><tspan class="s" dy="3.5">prof</tspan><tspan class="ss" dy="2.5">t</tspan><tspan dy="-6"> * K</tspan><tspan class="s" dy="3.5">prof</tspan><tspan class="ss" dy="2.5">z,t</tspan></text></g>
<g id="cond-prof"><polygon class="dm" points="623.5,1298 689,1259 754,1298 689,1338"/><text class="d" x="655" y="1302" textLength="74" lengthAdjust="spacingAndGlyphs">R<tspan class="ds" dy="3">profk</tspan><tspan class="dss" dy="2">t</tspan><tspan dy="-5"> ≥ R</tspan><tspan class="ds" dy="3">profk</tspan></text></g>
<g id="sum-prof-1"><rect class="ob" x="731" y="1207" width="207" height="80"/><rect class="ib" x="735" y="1217" width="196" height="58"/><path class="dv" d="M735,1244H931"/><text class="t c" x="834" y="1238" textLength="170" lengthAdjust="spacingAndGlyphs">Calculation of tax sum</text><text class="f" x="778" y="1265" textLength="110" lengthAdjust="spacingAndGlyphs">S<tspan class="s" dy="3.5">profk</tspan><tspan class="ss" dy="2.5">t</tspan><tspan dy="-6"> = N * R</tspan><tspan class="s" dy="3.5">prof</tspan><tspan class="ss" dy="2.5">t</tspan></text></g>
<g id="sum-prof-2"><rect class="ob" x="764" y="1304" width="176.6" height="52"/><rect class="ib" x="768" y="1313" width="168" height="31"/><text class="f" x="793.5" y="1335" textLength="114" lengthAdjust="spacingAndGlyphs">S<tspan class="s" dy="3.5">profk</tspan><tspan class="ss" dy="2.5">t</tspan><tspan dy="-6"> = N * R</tspan><tspan class="s" dy="3.5">profk</tspan><tspan class="ss" dy="2.5">t</tspan></text></g>
<g id="econ-prof"><rect class="ob" x="957.6" y="1207" width="215.4" height="145"/><path class="ib" d="M961.6,1342V1217H1172V1342"/><path class="dv" d="M961.6,1282H1172"/>
<text class="t" x="961" y="1233" textLength="211" lengthAdjust="spacingAndGlyphs">Calculation of the economy</text><text class="t" x="972.6" y="1257">sum</text><text class="t e" x="1172" y="1257" textLength="138" lengthAdjust="spacingAndGlyphs">(over-expenditure)</text><text class="t" x="972.6" y="1277" textLength="133" lengthAdjust="spacingAndGlyphs">from tax payment</text>
<text class="fm" x="974" y="1315">E<tspan class="sm" dy="4">prof</tspan><tspan class="ssm" dy="2.5">o</tspan></text><text class="fm" x="1013" y="1315">=</text>
<text x="1029" y="1322" style="font-size:36px" textLength="15.6" lengthAdjust="spacingAndGlyphs">Σ</text><text class="lim" x="1037" y="1296">T</text><text class="lim" x="1037" y="1330">t=1</text>
<text class="fm" x="1048" y="1315">S<tspan class="sm" dy="4">prof</tspan><tspan class="ssm" dy="2.5">t</tspan></text><text class="fm" x="1087" y="1315">−</text>
<text x="1101" y="1322" style="font-size:36px" textLength="15.6" lengthAdjust="spacingAndGlyphs">Σ</text><text class="lim" x="1109" y="1296">T</text><text class="lim" x="1109" y="1330">t=1</text>
<text class="fm" x="1119" y="1315">S<tspan class="sm" dy="4">profk</tspan><tspan class="ssm" dy="2.5">t</tspan></text></g>

<!-- Row 8: Export -->
<g id="export-duties"><rect class="nb" x="76.5" y="1401" width="113.5" height="85"/><text class="t c" x="133" y="1428" textLength="80" lengthAdjust="spacingAndGlyphs">The export</text><text class="t c" x="133" y="1453">customs</text><text class="t c" x="133" y="1476">duties</text></g>
<g id="calc-kex-t"><rect class="nb" x="202" y="1374" width="108" height="72"/><text class="t" x="205.5" y="1400" textLength="86" lengthAdjust="spacingAndGlyphs">Calculation</text><text class="k" x="212" y="1428">K<tspan class="ks" dy="5">e x</tspan><tspan class="kss" dy="3">t</tspan></text></g>
<g id="calc-kex-t1"><rect class="nb" x="202" y="1449" width="108" height="73"/><text class="t" x="205.5" y="1475" textLength="86" lengthAdjust="spacingAndGlyphs">Calculation</text><text class="k" x="212" y="1502">K<tspan class="ks" dy="5">e x</tspan><tspan class="kss" dy="3">t−1</tspan></text></g>
<g id="calc-kex-zt"><rect class="nb" x="327" y="1413" width="108.5" height="87"/><text class="t" x="331" y="1442" textLength="85" lengthAdjust="spacingAndGlyphs">Calculation</text><text class="k" x="337" y="1471">K<tspan class="ks" dy="5">ex</tspan><tspan class="kss" dy="3">z,t</tspan></text></g>
<g id="rate-ed"><rect class="ob" x="447" y="1387" width="175.7" height="122"/><path class="ib" d="M451,1500V1397H617.6V1500"/><path class="dv" d="M451,1451H617.6"/><text class="t c" x="534" y="1418" textLength="161" lengthAdjust="spacingAndGlyphs">Calculation of the tax</text><text class="t c" x="534" y="1445">rate</text><text class="fb" x="465" y="1478" style="font-size:22px" textLength="143" lengthAdjust="spacingAndGlyphs">R<tspan class="sb" dy="4">edk</tspan><tspan class="ssb" dy="3">j,t</tspan><tspan dy="-7"> = R</tspan><tspan class="sb" dy="4">ed</tspan><tspan class="ssb" dy="3">j</tspan><tspan dy="-7"> * K</tspan><tspan class="sb" dy="4">ex</tspan><tspan class="ssb" dy="3">z</tspan></text></g>
<g id="cond-ed"><polygon class="dm" points="635,1466 699,1426 764,1466 699,1505"/><text class="d" x="666" y="1469" textLength="68" lengthAdjust="spacingAndGlyphs">R<tspan class="ds" dy="3">edk</tspan><tspan class="dss" dy="2">j,t</tspan><tspan dy="-5"> ≥ R</tspan><tspan class="ds" dy="3">ed</tspan><tspan class="dss" dy="2">j,t</tspan></text></g>
<g id="sum-ex-1"><rect class="ob" x="755" y="1377" width="188" height="77"/><rect class="ib" x="759" y="1386" width="183" height="55"/><path class="dv" d="M759,1412H942"/><text class="t c" x="843.7" y="1406" textLength="170" lengthAdjust="spacingAndGlyphs">Calculation of tax sum</text><text class="f" x="803" y="1433" textLength="93" lengthAdjust="spacingAndGlyphs">S<tspan class="s" dy="3.5">exk</tspan><tspan class="ss" dy="2.5">t</tspan><tspan dy="-6"> = N * R</tspan><tspan class="s" dy="3.5">ed</tspan><tspan class="ss" dy="2.5">t</tspan></text></g>
<g id="sum-ex-2"><rect class="ob" x="770.6" y="1465" width="176.4" height="58"/><rect class="ib" x="774.5" y="1474" width="171.2" height="37"/><text class="fb" x="789" y="1498" style="font-size:22px" textLength="141" lengthAdjust="spacingAndGlyphs">S<tspan class="sb" dy="4">exk</tspan><tspan class="ssb" dy="3">t</tspan><tspan dy="-7"> = N * R</tspan><tspan class="sb" dy="4">edk</tspan><tspan class="ssb" dy="3">t</tspan></text></g>
<g id="econ-ex"><rect class="ob" x="961.6" y="1374" width="216.4" height="144"/><rect class="ib" x="965.5" y="1384" width="210.5" height="123"/><path class="dv" d="M965.5,1457H1176"/>
<text class="t" x="965.5" y="1403" textLength="209" lengthAdjust="spacingAndGlyphs">Calculation of the economy</text><text class="t" x="965.5" y="1428">sum</text><text class="t e" x="1175" y="1428" textLength="138" lengthAdjust="spacingAndGlyphs">(over-expenditure)</text><text class="t" x="965.5" y="1450" textLength="132" lengthAdjust="spacingAndGlyphs">from tax payment</text>
<text class="fm" x="987" y="1488">E<tspan class="sm" dy="4">ex</tspan><tspan class="ssm" dy="2.5">o</tspan></text><text class="fm" x="1019" y="1488">=</text>
<text x="1034.7" y="1495" style="font-size:34px" textLength="17.8" lengthAdjust="spacingAndGlyphs">Σ</text><text class="lim" x="1043.6" y="1470">T</text><text class="lim" x="1043.6" y="1503">t=1</text>
<text class="fm" x="1054.5" y="1488">S<tspan class="sm" dy="4">ex</tspan><tspan class="ssm" dy="2.5">t</tspan></text><text class="fm" x="1087" y="1488">−</text>
<text x="1100" y="1495" style="font-size:34px" textLength="17.8" lengthAdjust="spacingAndGlyphs">Σ</text><text class="lim" x="1109" y="1470">T</text><text class="lim" x="1109" y="1503">t=1</text>
<text class="fm" x="1119.7" y="1488">S<tspan class="sm" dy="4">exk</tspan><tspan class="ssm" dy="2.5">t</tspan></text></g>

<!-- Connectors -->
<g id="connectors">
<path class="gl" d="M75,38H59V1446M59,932H76.5M59,1172H78.5"/>
<g class="ln" marker-end="url(#ah)">
<path d="M59,144H75"/><path d="M59,403H75.4"/><path d="M59,564H75.4"/><path d="M59,703H73"/><path d="M59,835H75"/><path d="M59,1033H78.5"/><path d="M59,1294H79"/><path d="M59,1446H76.5"/>
<path d="M166.5,163H178"/><path d="M166.5,196H178"/><path d="M402,190H413"/><path d="M580,138H593"/><path d="M580,253H593"/><path d="M738,137H764"/><path d="M665,177H766"/><path d="M735,253H766"/><path d="M962,202H971"/>
<path d="M144,389H155"/><path d="M144,417H155"/><path d="M413,405H423"/><path d="M582,404H595"/><path d="M661,363H729"/><path d="M661,443H729"/><path d="M925,393H936"/>
<path d="M149,548H161.5"/><path d="M149,589H161.5"/><path d="M385,549H395"/><path d="M572,552H584.5"/><path d="M653,512H721"/><path d="M653,591H723"/><path d="M918,546H928"/>
<path d="M153,700H164"/><path d="M285,700H296.5"/><path d="M599,693H609.5"/>
<path d="M178,829H191"/><path d="M343,830H356"/><path d="M634,833H645"/>
<path d="M192,1033H204"/><path d="M192,1073H204"/><path d="M437.5,1059H450"/><path d="M626,1064H637"/><path d="M705,1024H756"/><path d="M705,1104H768.6"/><path d="M951.7,1044H963.5"/>
<path d="M159.6,1277H172"/><path d="M159.6,1317H172"/><path d="M406,1300H420"/><path d="M612.4,1298H623.5"/><path d="M689,1258H731"/><path d="M689,1339H764"/><path d="M947,1279H957.6"/>
<path d="M190,1434H202"/><path d="M190,1475H202"/><path d="M435.5,1461H447"/><path d="M622.7,1466H635"/><path d="M699,1425H755"/><path d="M699,1505H770.6"/><path d="M953.6,1445H961.6"/>
</g>
<path class="ln" d="M573,193H580M580,138V253M664,213H742"/>
<path class="gl" d="M286,150q8,0 8,8V182q0,8 8,8q-8,0 -8,8V222q0,8 -8,8"/>
<path class="gl" d="M298,360q9,0 9,8V393.5q0,8 9,8q-9,0 -9,8V435q0,8 -9,8"/>
<path class="gl" d="M270,513q8,0 8,8V550q0,8 8,8q-8,0 -8,8V586q0,8 -8,8"/>
<path class="gl" d="M312,1018q8.5,0 8.5,8V1051q0,8 8.5,8q-8.5,0 -8.5,8V1092q0,8 -8.5,8"/>
<path class="gl" d="M280.5,1258q8.75,0 8.75,8V1291q0,8 8.75,8q-8.75,0 -8.75,8V1333q0,8 -8.75,8"/>
<path class="gl" d="M310,1419q8.5,0 8.5,8V1452q0,8 8.5,8q-8.5,0 -8.5,8V1494q0,8 -8.5,8"/>
<path class="gl" d="M953,130H962V280H954M918,353H925V429H918M909,510H918V587H910M944,1007H951.7V1084H944.6M938,1242H947V1319H940.6M943,1409H953.6V1486H947"/>
<g marker-end="url(#ah)">
<path class="fk" d="M1090,273V308H122V212"/>
<path class="fk" d="M1086,467V471H122V438"/>
<path class="fk" d="M1086,622V637H122V606"/>
<path class="fk" d="M1087,748V756H119V731"/>
<path class="fk" d="M1087,892V902H120.6V873"/>
<path class="fkt" d="M1090,1127V1133H123V1081"/>
<path class="fk" d="M1090,1352V1365H123V1331"/>
<path class="fk" d="M1088,1518V1529H122V1487"/>
</g>
<text class="y" x="750" y="120">yes</text><text class="y" x="757" y="208">no</text><text class="y" x="731" y="290">yes</text>
<text class="y" x="616" y="367">yes</text><text class="y" x="605" y="443">no</text>
<text class="y" x="691" y="503">yes</text><text class="y" x="660" y="617">no</text>
<text class="y" x="735" y="998">yes</text><text class="y" x="642" y="1104">no</text>
<text class="y" x="656" y="1243">yes</text><text class="y" x="654" y="1343">no</text>
<text class="y" x="721" y="1401">yes</text><text class="y" x="651" y="1511">no</text>
</g>
</svg>
